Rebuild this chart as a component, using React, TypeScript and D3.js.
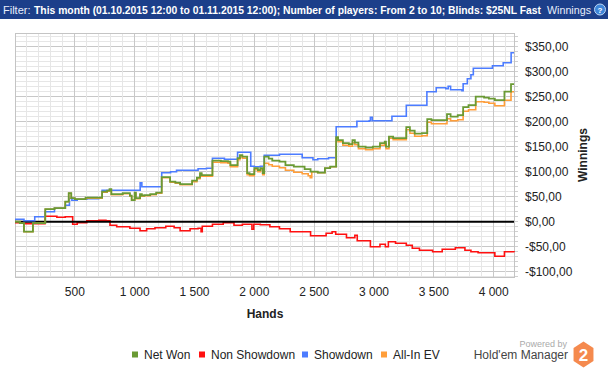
import React from "react";
import * as d3 from "d3";

type Pt = [number, number];

// [hand, dollars] step points
const netWon: Pt[] = [
  [0, 0], [40, -3], [75, -20], [150, -3], [253, 25], [330, 27], [420, 40], [449, 57], [470, 47],
  [500, 45], [590, 48], [728, 60], [770, 62], [790, 65], [805, 55], [900, 57], [960, 52], [975, 43],
  [1000, 58], [1010, 47], [1045, 55], [1060, 52], [1080, 53], [1130, 55], [1180, 58], [1226, 89],
  [1296, 80], [1340, 78], [1380, 75], [1480, 82], [1520, 88], [1546, 97], [1560, 93], [1650, 122],
  [1720, 121], [1780, 120], [1800, 113], [1860, 127], [1880, 133], [1900, 130], [1940, 97], [1960, 95],
  [2000, 107], [2030, 103], [2050, 107], [2070, 97], [2083, 130], [2120, 126], [2150, 122], [2210, 120],
  [2260, 113], [2330, 110], [2420, 105], [2470, 100], [2530, 98], [2590, 107], [2634, 110], [2684, 169],
  [2700, 163], [2740, 157], [2790, 155], [2820, 163], [2840, 158], [2870, 150], [2930, 148], [2990, 150],
  [3050, 157], [3090, 160], [3100, 150], [3125, 170], [3160, 167], [3270, 189], [3300, 182], [3340, 176],
  [3400, 177], [3445, 205], [3480, 203], [3610, 215], [3640, 210], [3700, 213], [3745, 229], [3790, 233],
  [3850, 250], [3920, 248], [3960, 246], [4010, 243], [4090, 260], [4145, 275], [4170, 275],
];

const allInEv: Pt[] = [
  [0, 0], [40, -3], [75, -20], [150, -3], [253, 25], [330, 27], [420, 40], [449, 57], [470, 47],
  [500, 45], [590, 47], [728, 59], [770, 61], [790, 64], [805, 54], [900, 56], [960, 51], [975, 43],
  [1000, 57], [1010, 46], [1045, 54], [1060, 51], [1080, 52], [1130, 54], [1180, 57], [1226, 88],
  [1296, 79], [1340, 77], [1380, 74], [1480, 80], [1520, 86], [1546, 95], [1560, 91], [1650, 119],
  [1720, 118], [1780, 117], [1800, 110], [1860, 124], [1880, 130], [1900, 127], [1940, 94], [1960, 92],
  [2000, 104], [2030, 100], [2050, 104], [2070, 94], [2083, 117], [2120, 114], [2150, 111], [2210, 108],
  [2260, 103], [2330, 99], [2400, 96], [2450, 92], [2467, 88], [2480, 100], [2530, 98], [2590, 107],
  [2634, 110], [2684, 166], [2700, 160], [2740, 153], [2790, 151], [2820, 158], [2840, 154], [2870, 146],
  [2930, 144], [2990, 146], [3050, 153], [3090, 156], [3100, 146], [3125, 167], [3160, 164], [3270, 184],
  [3300, 177], [3340, 171], [3400, 172], [3445, 199], [3480, 196], [3610, 206], [3640, 202], [3700, 204],
  [3745, 221], [3790, 224], [3850, 240], [3920, 239], [3960, 237], [4010, 232], [4090, 243], [4145, 260],
  [4170, 260],
];

const showdown: Pt[] = [
  [0, 5], [75, 2], [165, 10], [250, 20], [330, 27], [420, 33], [455, 47], [475, 43], [520, 45],
  [600, 46], [700, 48], [728, 63], [1046, 78], [1060, 70], [1226, 98], [1300, 100], [1350, 103],
  [1450, 103], [1530, 106], [1600, 107], [1650, 127], [1750, 125], [1860, 139], [1970, 111], [2000, 110],
  [2050, 111], [2083, 133], [2150, 133], [2210, 135], [2380, 135], [2400, 128], [2490, 124], [2530, 126],
  [2620, 128], [2684, 190], [2750, 190], [2857, 201], [2960, 202], [2970, 209], [2985, 202], [3150, 211],
  [3270, 233], [3442, 260], [3520, 268], [3600, 266], [3620, 271], [3640, 264], [3735, 262], [3745, 276],
  [3780, 286], [3810, 294], [3830, 307], [3990, 312], [4080, 318], [4146, 338], [4170, 338],
];

const nonShowdown: Pt[] = [
  [0, -2], [75, -4], [251, 11], [350, 9], [420, 10], [482, -5], [520, -2], [600, 2], [700, 3],
  [760, 2], [794, -7], [850, -10], [960, -13], [1045, -18], [1100, -14], [1170, -12], [1260, -9],
  [1330, -12], [1380, -18], [1463, -14], [1530, -13], [1555, -20], [1565, -9], [1650, -5], [1740, -2],
  [1830, -7], [1900, -5], [1980, -15], [1995, -5], [2050, -6], [2130, -10], [2210, -14], [2300, -20],
  [2470, -28], [2600, -23], [2650, -20], [2680, -25], [2770, -32], [2840, -27], [2860, -38], [2970, -50],
  [3050, -45], [3095, -50], [3120, -40], [3180, -43], [3270, -47], [3320, -53], [3380, -57], [3490, -60],
  [3570, -55], [3680, -52], [3760, -57], [3810, -60], [3870, -62], [4010, -69], [4090, -60], [4170, -61],
];

const legendLabels = ["Net Won", "Non Showdown", "Showdown", "All-In EV"];
const legendColors = ["#6a9a34", "#ff1010", "#4c7cff", "#ff9e3a"];
const yTickValues = [-100, -50, 0, 50, 100, 150, 200, 250, 300, 350];
const xTickValues = [500, 1000, 1500, 2000, 2500, 3000, 3500, 4000];

const FONT = "'Liberation Sans', Arial, sans-serif";

const fmtMoney = (v: number) => (v < 0 ? "-$" : "$") + Math.abs(v).toFixed(2).replace(".", ",");
const fmtHands = (v: number) => (v >= 1000 ? `${Math.floor(v / 1000)} ${String(v % 1000).padStart(3, "0")}` : String(v));

const App = () => {
  const left = 15, right = 514, top = 33, bottom = 277;
  const x = d3.scaleLinear().domain([0, 4170]).range([left, right]);
  const y = d3.scaleLinear().domain([-110.6, 377.4]).range([bottom, top]);

  const line = d3
    .line<Pt>()
    .x((d) => x(d[0]))
    .y((d) => y(d[1]))
    .curve(d3.curveStepAfter);

  const xMinor = d3.range(100, 4170, 100);
  const yMinor = d3.range(-110, 378, 10);

  // legend item x positions (square)
  const legendX = [132, 199, 302, 381];

  return (
    <svg
      width={608}
      height={369}
      style={{ position: "fixed", left: 0, top: 0, background: "#fff" }}
      fontFamily={FONT}
    >
      {/* header */}
      <rect x={0} y={0} width={608} height={19} fill="#1c3f8a" />
      <text x={3} y={14} fontSize={11} fill="#e8eefc">Filter:</text>
      <text x={34} y={14} fontSize={10.3} fontWeight="bold" fill="#fff" textLength={507} lengthAdjust="spacingAndGlyphs">
        This month (01.10.2015 12:00 to 01.11.2015 12:00); Number of players: From 2 to 10; Blinds: $25NL Fast
      </text>
      <text x={547} y={14} fontSize={11} fill="#e8eefc" textLength={44} lengthAdjust="spacingAndGlyphs">Winnings</text>
      <circle cx={600} cy={9.5} r={5.5} fill="#3f86d8" stroke="#bcd6f5" strokeWidth={1} />
      <text x={600} y={12.5} fontSize={8} fontWeight="bold" fill="#fff" textAnchor="middle">?</text>

      {/* grid */}
      <g>
        {yMinor.map((v) => (
          <line key={"ym" + v} x1={left} x2={right} y1={y(v)} y2={y(v)}
            stroke={v % 50 === 0 ? "#c8c8c8" : "#e6e6e6"} strokeWidth={1} shapeRendering="crispEdges" />
        ))}
        {xMinor.map((v) => (
          <line key={"xm" + v} x1={x(v)} x2={x(v)} y1={top} y2={bottom}
            stroke={v % 500 === 0 ? "#c8c8c8" : "#e6e6e6"} strokeWidth={1} shapeRendering="crispEdges" />
        ))}
        {yMinor.map((v) => (
          <line key={"yt" + v} x1={right} x2={right + 4} y1={y(v)} y2={y(v)}
            stroke="#d0d0d0" strokeWidth={1} shapeRendering="crispEdges" />
        ))}
        <rect x={left} y={top} width={right - left} height={bottom - top} fill="none" stroke="#c4c4c4" shapeRendering="crispEdges" />
      </g>

      {/* series */}
      <path d={line(nonShowdown) ?? ""} fill="none" stroke={legendColors[1]} strokeWidth={1.6} />
      <line x1={left} x2={right} y1={y(0)} y2={y(0)} stroke="#000" strokeWidth={2} />
      <path d={line(showdown) ?? ""} fill="none" stroke={legendColors[2]} strokeWidth={1.6} />
      <path d={line(allInEv) ?? ""} fill="none" stroke={legendColors[3]} strokeWidth={1.6} />
      <path d={line(netWon) ?? ""} fill="none" stroke={legendColors[0]} strokeWidth={1.8} />

      {/* y axis labels */}
      {yTickValues.map((v) => (
        <text key={"yl" + v} x={525} y={y(v) + 4.5} fontSize={12} fill="#222">{fmtMoney(v)}</text>
      ))}
      <text transform="translate(587,155) rotate(-90)" textAnchor="middle" fontSize={12} fontWeight="bold" fill="#222">Winnings</text>

      {/* x axis labels */}
      {xTickValues.map((v) => (
        <text key={"xl" + v} x={x(v)} y={296} fontSize={12} fill="#222" textAnchor="middle">{fmtHands(v)}</text>
      ))}
      <text x={265} y={318} fontSize={12} fontWeight="bold" fill="#222" textAnchor="middle">Hands</text>

      {/* legend */}
      {legendLabels.map((lbl, i) => (
        <g key={lbl}>
          <rect x={legendX[i]} y={351.5} width={6} height={6} fill={legendColors[i]} />
          <text x={legendX[i] + 12} y={359} fontSize={12} fill="#222">{lbl}</text>
        </g>
      ))}

      {/* branding */}
      <text x={567} y={347} fontSize={9} fill="#aaa" textAnchor="end">Powered by</text>
      <text x={568} y={359} fontSize={12} fill="#444" textAnchor="end">Hold'em Manager</text>
      <polygon
        points={d3.range(6).map((k) => {
          const a = (Math.PI / 3) * k - Math.PI / 2;
          return `${583.5 + 11.5 * Math.cos(a)},${354.5 + 13 * Math.sin(a)}`;
        }).join(" ")}
        fill="#f58a4e"
      />
      <text x={583.5} y={361} fontSize={17} fontWeight="bold" fill="#fff" textAnchor="middle">2</text>
    </svg>
  );
};

export default App;
